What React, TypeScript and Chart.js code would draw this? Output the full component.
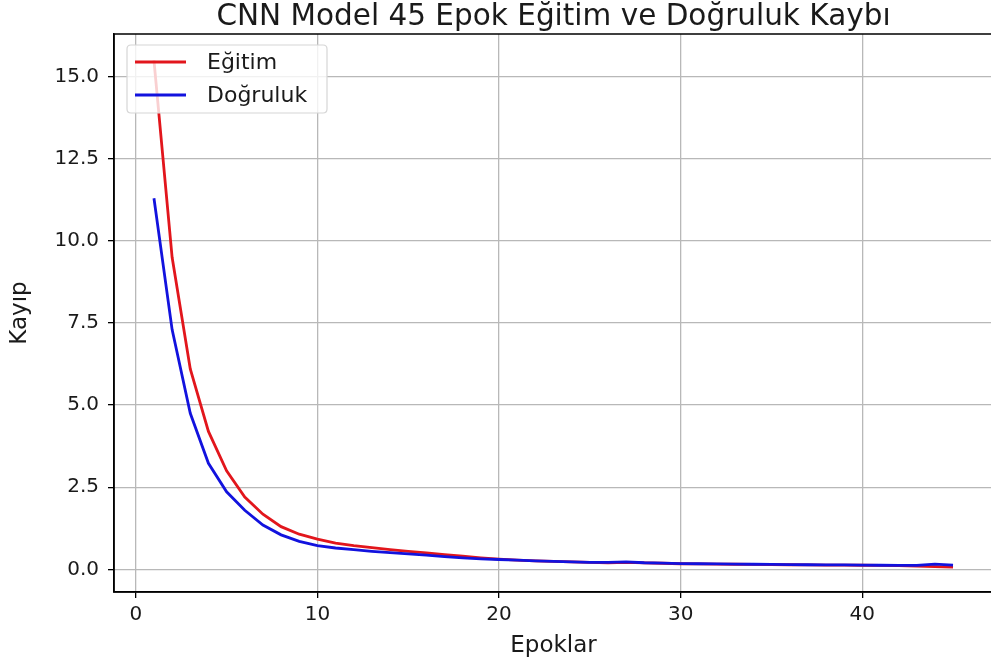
import React, { useEffect, useRef } from "react";
import { Chart, registerables } from "chart.js";

Chart.register(...registerables);

const TITLE = "CNN Model 45 Epok Eğitim ve Doğruluk Kaybı";
const X_LABEL = "Epoklar";
const Y_LABEL = "Kayıp";
const SERIES_NAMES = ["Eğitim", "Doğruluk"];

const EPOCHS = Array.from({ length: 45 }, (_, i) => i + 1);

const TRAIN_LOSS = [
  15.5, 9.5, 6.1, 4.2, 3.0, 2.2, 1.68, 1.3, 1.07, 0.92,
  0.8, 0.72, 0.66, 0.6, 0.55, 0.5, 0.45, 0.4, 0.35, 0.31,
  0.28, 0.26, 0.24, 0.23, 0.21, 0.2, 0.21, 0.195, 0.185, 0.17,
  0.165, 0.16, 0.155, 0.15, 0.145, 0.14, 0.135, 0.13, 0.13, 0.125,
  0.12, 0.115, 0.1, 0.08, 0.07,
];

const VAL_LOSS = [
  11.3, 7.3, 4.75, 3.23, 2.36, 1.8, 1.35, 1.05, 0.85, 0.72,
  0.65, 0.6, 0.55, 0.51, 0.47, 0.43, 0.39, 0.35, 0.32, 0.3,
  0.28, 0.26, 0.24, 0.23, 0.21, 0.21, 0.225, 0.2, 0.19, 0.175,
  0.17, 0.165, 0.16, 0.155, 0.15, 0.145, 0.14, 0.135, 0.135, 0.13,
  0.125, 0.12, 0.12, 0.16, 0.13,
];

const Y_TICKS = [0, 2.5, 5, 7.5, 10, 12.5, 15];

const RED = "rgb(226,22,28)";
const BLUE = "rgb(18,18,222)";
const FONT = "'DejaVu Sans', 'Liberation Sans', sans-serif";

const framePlugin = {
  id: "frame",
  afterDraw(chart: any) {
    const { ctx, chartArea: a } = chart;
    ctx.save();
    ctx.strokeStyle = "#000";
    ctx.lineWidth = 1.5;
    ctx.strokeRect(a.left, a.top, a.right - a.left, a.bottom - a.top);
    // title centred over the axes, as matplotlib does
    ctx.fillStyle = "#1a1a1a";
    ctx.font = `29.5px ${FONT}`;
    ctx.textAlign = "center";
    ctx.textBaseline = "alphabetic";
    ctx.fillText(TITLE, (a.left + a.right) / 2, a.top - 9);
    ctx.restore();
  },
};

const legendPlugin = {
  id: "mplLegend",
  afterDatasetsDraw(chart: any) {
    const { ctx, chartArea: a } = chart;
    const x0 = a.left + 13;
    const y0 = a.top + 11;
    const w = 200;
    const h = 68;
    ctx.save();
    ctx.beginPath();
    const r = 4;
    ctx.moveTo(x0 + r, y0);
    ctx.lineTo(x0 + w - r, y0);
    ctx.quadraticCurveTo(x0 + w, y0, x0 + w, y0 + r);
    ctx.lineTo(x0 + w, y0 + h - r);
    ctx.quadraticCurveTo(x0 + w, y0 + h, x0 + w - r, y0 + h);
    ctx.lineTo(x0 + r, y0 + h);
    ctx.quadraticCurveTo(x0, y0 + h, x0, y0 + h - r);
    ctx.lineTo(x0, y0 + r);
    ctx.quadraticCurveTo(x0, y0, x0 + r, y0);
    ctx.closePath();
    ctx.fillStyle = "rgba(255,255,255,0.8)";
    ctx.fill();
    ctx.strokeStyle = "#d6d6d6";
    ctx.lineWidth = 1.2;
    ctx.stroke();
    const colors = [RED, BLUE];
    SERIES_NAMES.forEach((name, i) => {
      const yy = y0 + 17 + i * 33;
      ctx.strokeStyle = colors[i];
      ctx.lineWidth = 2.8;
      ctx.beginPath();
      ctx.moveTo(x0 + 8, yy);
      ctx.lineTo(x0 + 59, yy);
      ctx.stroke();
      ctx.fillStyle = "#1a1a1a";
      ctx.font = `22px ${FONT}`;
      ctx.textBaseline = "middle";
      ctx.textAlign = "left";
      ctx.fillText(name, x0 + 80, yy + 1);
    });
    ctx.restore();
  },
};

export default function App() {
  const canvasRef = useRef<HTMLCanvasElement | null>(null);

  useEffect(() => {
    const canvas = canvasRef.current;
    if (!canvas) return;
    const chart = new Chart(canvas, {
      type: "line",
      data: {
        datasets: [
          {
            label: SERIES_NAMES[0],
            data: EPOCHS.map((e, i) => ({ x: e, y: TRAIN_LOSS[i] })),
            borderColor: RED,
            backgroundColor: RED,
            borderWidth: 2.8,
            pointRadius: 0,
            tension: 0,
            order: 1,
          },
          {
            label: SERIES_NAMES[1],
            data: EPOCHS.map((e, i) => ({ x: e, y: VAL_LOSS[i] })),
            borderColor: BLUE,
            backgroundColor: BLUE,
            borderWidth: 2.8,
            pointRadius: 0,
            tension: 0,
            order: 0,
          },
        ],
      },
      options: {
        animation: false,
        responsive: false,
        devicePixelRatio: 1,
        layout: { padding: { left: 0, right: 7, top: 34, bottom: 0 } },
        plugins: {
          legend: { display: false },
          tooltip: { enabled: false },
          title: { display: false },
        },
        scales: {
          x: {
            type: "linear",
            min: -1.2,
            max: 47.2,
            afterFit(scale: any) {
              scale.height = 73;
            },
            ticks: {
              stepSize: 10,
              includeBounds: false,
              color: "#1a1a1a",
              font: { family: FONT, size: 20 },
              padding: 5,
              maxRotation: 0,
              callback: (v: any) => String(v),
            },
            grid: {
              color: "#b8b8b8",
              lineWidth: 1.3,
              tickColor: "#000",
              tickLength: 6,
            },
            border: { color: "#000", width: 1.5 },
            title: {
              display: true,
              text: X_LABEL,
              color: "#1a1a1a",
              font: { family: FONT, size: 23 },
              padding: { top: 0, bottom: 5 },
            },
          },
          y: {
            type: "linear",
            min: -0.69,
            max: 16.3,
            afterFit(scale: any) {
              scale.width = 114;
            },
            afterBuildTicks(scale: any) {
              scale.ticks = Y_TICKS.map((v) => ({ value: v }));
            },
            ticks: {
              color: "#1a1a1a",
              font: { family: FONT, size: 20 },
              padding: 9,
              callback: (v: any) => Number(v).toFixed(1),
            },
            grid: {
              color: "#b8b8b8",
              lineWidth: 1.3,
              tickColor: "#000",
              tickLength: 6,
            },
            border: { color: "#000", width: 1.5 },
            title: {
              display: true,
              text: Y_LABEL,
              color: "#1a1a1a",
              font: { family: FONT, size: 23 },
              padding: { top: 6, bottom: 0 },
            },
          },
        },
      },
      plugins: [framePlugin, legendPlugin],
    } as any);
    return () => chart.destroy();
  }, []);

  return (
    <div
      style={{
        position: "fixed",
        left: 0,
        top: 0,
        width: 991,
        height: 665,
        overflow: "hidden",
        background: "#fff",
      }}
    >
      <canvas ref={canvasRef} width={1000} height={665} style={{ display: "block" }} />
    </div>
  );
}
